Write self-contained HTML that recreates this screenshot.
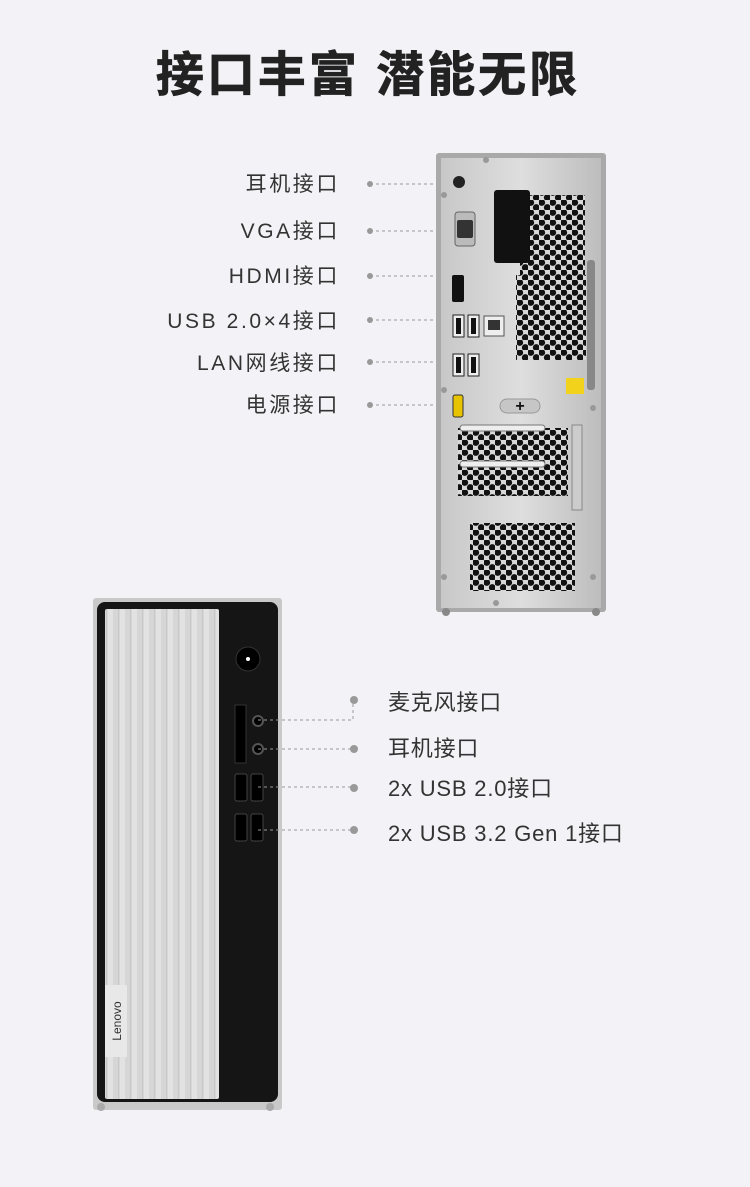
<!DOCTYPE html>
<html><head><meta charset="utf-8"><style>
body{margin:0;background:#f3f3f7;}
svg{display:block}
text{font-family:"Liberation Sans","Noto Sans CJK SC",sans-serif;}
</style></head><body>
<svg width="750" height="1187" viewBox="0 0 750 1187" xmlns="http://www.w3.org/2000/svg">
<defs>
<pattern id="hex" width="11" height="10" patternUnits="userSpaceOnUse">
<rect width="11" height="10" fill="#d8d8d8"/>
<circle cx="2.75" cy="2.5" r="3.4" fill="#111"/><circle cx="8.25" cy="7.5" r="3.4" fill="#111"/>
</pattern>
<linearGradient id="met" x1="0" x2="1"><stop offset="0" stop-color="#c8c8c8"/><stop offset=".5" stop-color="#dedede"/><stop offset="1" stop-color="#bdbdbd"/></linearGradient>
<pattern id="fins" width="12" height="10" patternUnits="userSpaceOnUse">
<rect width="12" height="10" fill="#d6d6d6"/><rect x="0" width="5" height="10" fill="#e2e2e2"/><rect x="10" width="1" height="10" fill="#c8c8c8"/>
</pattern>
</defs>
<rect width="750" height="1187" fill="#f3f3f7"/>
<text x="368" y="91" font-size="48" font-weight="bold" text-anchor="middle" fill="#222" letter-spacing="3" stroke="#222" stroke-width="0.8">接口丰富 潜能无限</text>

<!-- rear labels -->
<g font-size="21" fill="#333" text-anchor="end" letter-spacing="2.6">
<text x="340" y="191">耳机接口</text>
<text x="340" y="238">VGA接口</text>
<text x="340" y="283">HDMI接口</text>
<text x="340" y="328">USB 2.0×4接口</text>
<text x="340" y="370">LAN网线接口</text>
<text x="340" y="412">电源接口</text>
</g>
<g stroke="#999" stroke-dasharray="3,3" stroke-width="1" fill="none">
<line x1="370" y1="184" x2="455" y2="184"/>
<line x1="370" y1="231" x2="462" y2="231"/>
<line x1="370" y1="276" x2="455" y2="276"/>
<line x1="370" y1="320" x2="458" y2="320"/>
<line x1="370" y1="362" x2="458" y2="362"/>
<line x1="370" y1="405" x2="455" y2="405"/>
</g>
<g fill="#999"><circle cx="370" cy="184" r="3"/><circle cx="370" cy="231" r="3"/><circle cx="370" cy="276" r="3"/><circle cx="370" cy="320" r="3"/><circle cx="370" cy="362" r="3"/><circle cx="370" cy="405" r="3"/></g>

<!-- rear chassis -->
<rect x="436" y="153" width="170" height="459" rx="3" fill="#a9a9a9"/>
<rect x="441" y="158" width="160" height="450" fill="url(#met)"/>
<rect x="587" y="260" width="8" height="130" rx="3" fill="#888"/>
<rect x="520" y="195" width="65" height="165" fill="url(#hex)"/>
<rect x="516" y="275" width="70" height="85" fill="url(#hex)"/>
<rect x="494" y="190" width="36" height="73" rx="3" fill="#111"/>
<circle cx="459" cy="182" r="6" fill="#222"/>
<rect x="455" y="212" width="20" height="34" rx="3" fill="#bbb" stroke="#666"/>
<rect x="457" y="220" width="16" height="18" rx="2" fill="#333"/>
<rect x="452" y="275" width="12" height="27" rx="2" fill="#111"/>
<rect x="453" y="315" width="11" height="22" fill="#eee" stroke="#222"/><rect x="456" y="318" width="5" height="16" fill="#111"/>
<rect x="468" y="315" width="11" height="22" fill="#eee" stroke="#222"/><rect x="471" y="318" width="5" height="16" fill="#111"/>
<rect x="453" y="354" width="11" height="22" fill="#eee" stroke="#222"/><rect x="456" y="357" width="5" height="16" fill="#111"/>
<rect x="468" y="354" width="11" height="22" fill="#eee" stroke="#222"/><rect x="471" y="357" width="5" height="16" fill="#111"/>
<rect x="484" y="316" width="20" height="20" fill="#eee" stroke="#555"/><rect x="488" y="320" width="12" height="10" fill="#333"/>
<rect x="566" y="378" width="18" height="16" fill="#f2d21a"/>
<rect x="453" y="395" width="10" height="22" rx="2" fill="#e8c400" stroke="#333"/>
<rect x="500" y="399" width="40" height="14" rx="7" fill="#c6c6c6" stroke="#999"/>
<text x="520" y="411" font-size="16" font-weight="bold" text-anchor="middle" fill="#111">+</text>
<rect x="458" y="428" width="110" height="68" fill="url(#hex)"/>
<rect x="460" y="425" width="85" height="6" rx="3" fill="#eee" stroke="#777"/>
<rect x="460" y="461" width="85" height="6" rx="3" fill="#eee" stroke="#777"/>
<rect x="572" y="425" width="10" height="85" fill="#ccc" stroke="#888"/>
<rect x="470" y="523" width="105" height="68" fill="url(#hex)"/>
<g fill="#999"><circle cx="444" cy="195" r="3"/><circle cx="444" cy="390" r="3"/><circle cx="444" cy="577" r="3"/><circle cx="593" cy="577" r="3"/><circle cx="593" cy="408" r="3"/><circle cx="486" cy="160" r="3"/><circle cx="496" cy="603" r="3"/></g>
<circle cx="446" cy="612" r="4" fill="#888"/><circle cx="596" cy="612" r="4" fill="#888"/>

<!-- front chassis -->
<rect x="93" y="598" width="189" height="512" rx="3" fill="#c9c9c9"/>
<rect x="97" y="602" width="181" height="500" rx="8" fill="#151515"/>
<rect x="105" y="609" width="114" height="490" rx="2" fill="url(#fins)"/>
<rect x="105" y="985" width="22" height="72" fill="#e8e8e8"/>
<text transform="translate(121,1021) rotate(-90)" font-size="12" text-anchor="middle" fill="#333">Lenovo</text>
<circle cx="248" cy="659" r="12" fill="#000" stroke="#333"/><circle cx="248" cy="659" r="2" fill="#fff"/>
<rect x="235" y="705" width="11" height="58" fill="#000" stroke="#333"/>
<circle cx="258" cy="721" r="5" fill="#000" stroke="#555" stroke-width="2"/>
<circle cx="258" cy="749" r="5" fill="#000" stroke="#555" stroke-width="2"/>
<g fill="#000" stroke="#444">
<rect x="235" y="774" width="12" height="27" rx="2"/><rect x="251" y="774" width="12" height="27" rx="2"/>
<rect x="235" y="814" width="12" height="27" rx="2"/><rect x="251" y="814" width="12" height="27" rx="2"/>
</g>
<circle cx="101" cy="1107" r="4" fill="#aaa"/><circle cx="270" cy="1107" r="4" fill="#aaa"/>

<g stroke="#999" stroke-dasharray="3,3" stroke-width="1" fill="none">
<polyline points="258,720 353,720 353,702"/>
<line x1="258" y1="749" x2="354" y2="749"/>
<line x1="258" y1="787" x2="354" y2="787"/>
<line x1="258" y1="830" x2="354" y2="830"/>
</g>
<g fill="#999"><circle cx="354" cy="700" r="4"/><circle cx="354" cy="749" r="4"/><circle cx="354" cy="788" r="4"/><circle cx="354" cy="830" r="4"/></g>
<g font-size="22" fill="#333" letter-spacing="0.8">
<text x="388" y="710">麦克风接口</text>
<text x="388" y="756">耳机接口</text>
<text x="388" y="796">2x USB 2.0接口</text>
<text x="388" y="841">2x USB 3.2 Gen 1接口</text>
</g>
</svg>
</body></html>
